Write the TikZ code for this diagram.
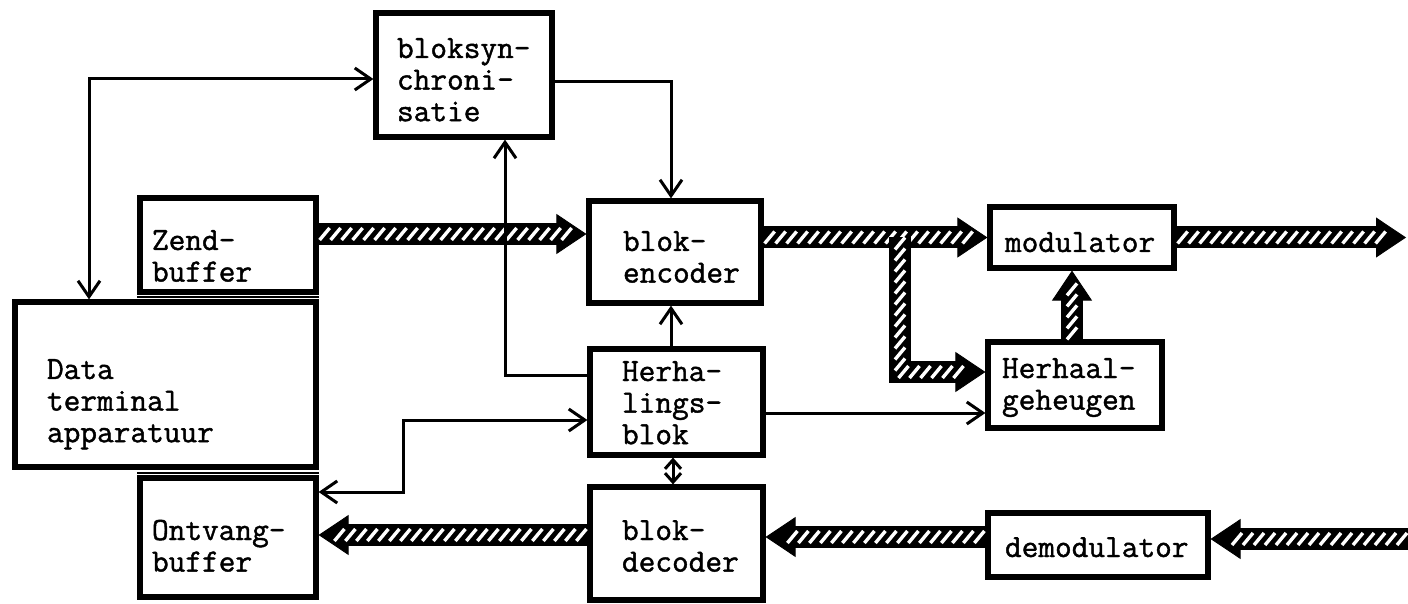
\documentclass[tikz,border=0pt]{standalone}
\usepackage{fontspec}
\newfontfamily\twfont{Latin Modern Mono}[FakeBold=1.3]
\usetikzlibrary{arrows.meta,decorations.markings,calc}
\tikzset{
  blk/.style={draw, line width=2.6pt, inner ysep=0pt, align=left,
    font=\twfont\fontsize{16.2pt}{15.8pt}\selectfont},
  conn/.style={line width=1.5pt, >={Straight Barb[length=8pt 0 0,width=11pt 0 0]}},
  smallconn/.style={line width=1.5pt, >={Straight Barb[length=4.5pt 0 0,width=8pt 0 0]}},
  sepline/.style={line width=1pt},
  hatch/.style={line width=11pt, line join=miter,
    -{Triangle[length=15pt 0 0,width=20pt 0 0,line width=0.4pt 0 0]},
    postaction={decorate, decoration={markings,
      mark=between positions 3pt and -8pt step 5.5pt with {\pgftransformresetnontranslations
        \draw[white, -, line width=1.7pt, line cap=butt] (-2.5pt,-3pt) -- (2.5pt,3pt);}}}}
}
\begin{document}
\hyphenpenalty=10000 \exhyphenpenalty=10000
\begin{tikzpicture}[x=0.5pt,y=-0.5pt]
\fill[white] (0,0) rectangle (1408,604);
\useasboundingbox (0,0) rectangle (1408,604);

% boxes
\node[blk, inner xsep=10.5pt, text width=67pt, minimum height=62pt, text height=0pt, text depth=17pt] (bs) at (464,75) {bloksyn-\\chroni-\\satie};
\node[blk, inner xsep=6pt, text width=76pt, minimum height=47pt, text height=5pt, text depth=0pt] (zb) at (228,245) {Zend-\\buffer};
\node[blk, inner xsep=16pt, text width=118.5pt, minimum height=82.5pt, text height=0pt, text depth=5.5pt] (dta) at (165.5,384.5) {Data\\terminal\\apparatuur};
\node[blk, inner xsep=6pt, text width=76pt, minimum height=59.5pt, text height=2.5pt, text depth=0pt] (ov) at (228,537.5) {Ontvang-\\buffer};
\node[blk, inner xsep=17pt, text width=52pt, minimum height=51pt, text height=0pt, text depth=1pt] (enc) at (675,252) {blok-\\encoder};
\node[blk, inner xsep=16pt, text width=54.5pt, minimum height=53pt, text height=0pt, text depth=21pt] (hb) at (676.5,402) {Herha-\\lings-\\blok};
\node[blk, inner xsep=16pt, text width=54.5pt, minimum height=56.5pt, text height=0pt, text depth=3.5pt] (bd) at (676.5,543.5) {blok-\\decoder};
\node[blk, inner xsep=7.5pt, text width=77pt, minimum height=30.5pt, text height=14.5pt, text depth=0pt] (mod) at (1082,237.5) {modulator};
\node[blk, inner xsep=7pt, text width=73pt, minimum height=43pt, text height=0pt, text depth=7pt] (hg) at (1075,385) {Herhaal-\\geheugen};
\node[blk, inner xsep=8.5pt, text width=93pt, minimum height=32pt, text height=12pt, text depth=0pt] (dm) at (1098,545) {demodulator};

% double border lines between stacked boxes
\draw[sepline] ($(zb.south west)!.5!(zb.south west |- dta.north)$) -- ($(zb.south east)!.5!(zb.south east |- dta.north)$);
\draw[sepline] ($(ov.north west)!.5!(ov.north west |- dta.south)$) -- ($(ov.north east)!.5!(ov.north east |- dta.south)$);

% helper coordinates
\coordinate (yA) at (0,234);
\coordinate (br) at (900,237.5);
\coordinate (yC) at (0,372);
\coordinate (xV) at (1072,0);
\coordinate (oe) at (1406,237.5);
\coordinate (ie) at (1408,539);
\coordinate (yD) at (0,537);
\coordinate (yE) at (0,535);
\coordinate (c1) at (89,79);
\coordinate (c2) at (671,82);
\coordinate (c4) at (505,375);
\coordinate (c5) at (403,420);
\coordinate (c6) at (0,492);
\coordinate (c7) at (0,413);
\coordinate (c8) at (673,0);

% hatched data paths
\draw[hatch] (zb.east |- yA) -- (enc.west |- yA);
\draw[hatch] (enc.east |- mod.west) -- (mod.west);
\draw[hatch] (br) |- (hg.west |- yC);
\draw[hatch] (hg.north -| xV) -- (mod.south -| xV);
\draw[hatch] (mod.east) -- (mod.east -| oe);
\draw[hatch] (ie) -- (dm.east |- ie);
\draw[hatch] (dm.west |- yD) -- (bd.east |- yD);
\draw[hatch] (bd.west |- yE) -- (ov.east |- yE);

% control connections
\draw[conn,<->] (bs.west |- c1) -| (dta.north -| c1);
\draw[conn,->] (bs.east |- c2) -| (enc.north -| c2);
\draw[conn,->] (hb.north -| c2) -- (enc.south -| c2);
\draw[conn,->] (hb.west |- c4) -| (bs.south -| c4);
\draw[conn,<->] (ov.east |- c6) -| (c5) -- (hb.west |- c5);
\draw[conn,->] (hb.east |- c7) -- (hg.west |- c7);
\draw[smallconn,<->] (hb.south -| c8) -- (bd.north -| c8);
\end{tikzpicture}
\end{document}
